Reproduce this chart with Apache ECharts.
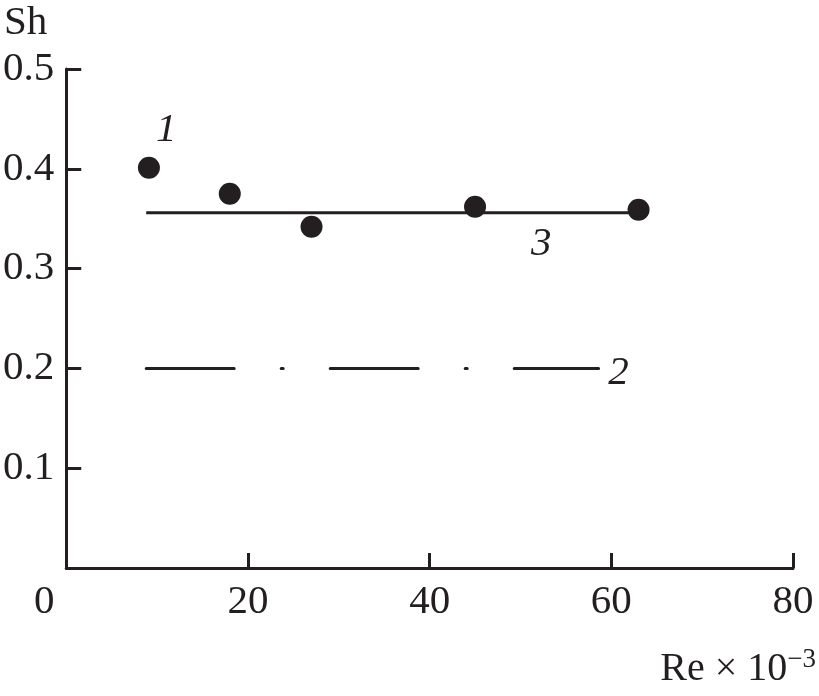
<!DOCTYPE html>
<html>
<head>
<meta charset="utf-8">
<script src="https://cdn.jsdelivr.net/npm/echarts@6/dist/echarts.min.js"></script>
<style>
  html, body { margin: 0; padding: 0; background: #fff; }
  #chart { width: 819px; height: 696px; }
</style>
</head>
<body>
<div id="chart"></div>
<script>
// measured points (curve 1)
const reDots = [9.1, 18.0, 27.0, 45.0, 63.0];
const shDots = [0.401, 0.375, 0.342, 0.362, 0.359];
// curve 3: horizontal fit
const line3Re = [8.8, 63.7];
const line3Sh = [0.356, 0.356];
// curve 2: dash-dot
const line2Re = [8.8, 58.6];
const line2Sh = [0.2, 0.2];
// curve numbers
const tagText = ['1', '3', '2'];
const tagRe = [11.0, 52.3, 60.8];
const tagSh = [0.439, 0.324, 0.195];

const ink = '#231f20';
const serif = '"Liberation Serif", "DejaVu Serif", serif';

const pairs = (xs, ys) => xs.map((x, i) => [x, ys[i]]);

const chart = echarts.init(document.getElementById('chart'));
chart.setOption({
    animation: false,
    grid: { left: 64, right: 23, top: 69, bottom: 128 },
    xAxis: {
        type: 'value',
        min: 0, max: 80, interval: 20,
        name: '{a|Re × 10}{s|−3}',
        nameLocation: 'end',
        nameGap: 23,
        nameTextStyle: {
            align: 'right', verticalAlign: 'top', padding: [78, 0, 0, 0],
            rich: {
                a: { fontFamily: serif, fontSize: 40, color: ink },
                s: { fontFamily: serif, fontSize: 27, color: ink, padding: [0, 0, 20, 0] }
            }
        },
        axisLine: { lineStyle: { color: ink, width: 3 } },
        axisTick: { inside: true, length: 15, lineStyle: { color: ink, width: 3 } },
        splitLine: { show: false },
        axisLabel: {
            margin: 14,
            fontFamily: serif, fontSize: 41, color: ink,
            formatter: v => v === 0 ? '{z|0}' : String(v),
            rich: { z: { fontFamily: serif, fontSize: 41, color: ink, padding: [0, 44, 0, 0] } }
        }
    },
    yAxis: {
        type: 'value',
        min: 0, max: 0.5, interval: 0.1,
        name: 'Sh',
        nameLocation: 'end',
        nameGap: 46,
        nameTextStyle: {
            fontFamily: serif, fontSize: 41, color: ink,
            align: 'right', verticalAlign: 'middle', padding: [0, 19, 0, 0]
        },
        axisLine: { lineStyle: { color: ink, width: 3 } },
        axisTick: { inside: true, length: 15, lineStyle: { color: ink, width: 3 } },
        splitLine: { show: false },
        axisLabel: {
            showMinLabel: false,
            margin: 12,
            fontFamily: serif, fontSize: 41, color: ink,
            formatter: v => v.toFixed(1)
        }
    },
    series: [
        {
            type: 'line',
            data: pairs(line3Re, line3Sh),
            symbol: 'none',
            lineStyle: { color: ink, width: 3 }
        },
        {
            type: 'line',
            data: pairs(line2Re, line2Sh),
            symbol: 'none',
            lineStyle: { color: ink, width: 3, type: [88, 47, 2, 47], cap: 'round' }
        },
        {
            type: 'scatter',
            data: pairs(reDots, shDots),
            symbol: 'circle',
            symbolSize: 22,
            itemStyle: { color: ink, opacity: 1 }
        },
        {
            type: 'scatter',
            data: tagRe.map((x, i) => ({ value: [x, tagSh[i]], name: tagText[i] })),
            symbolSize: 0,
            itemStyle: { color: ink, opacity: 1 },
            label: {
                show: true,
                position: 'inside',
                formatter: p => p.name,
                fontFamily: serif, fontStyle: 'italic', fontSize: 41,
                color: ink, opacity: 1
            }
        }
    ]
});
</script>
</body>
</html>
